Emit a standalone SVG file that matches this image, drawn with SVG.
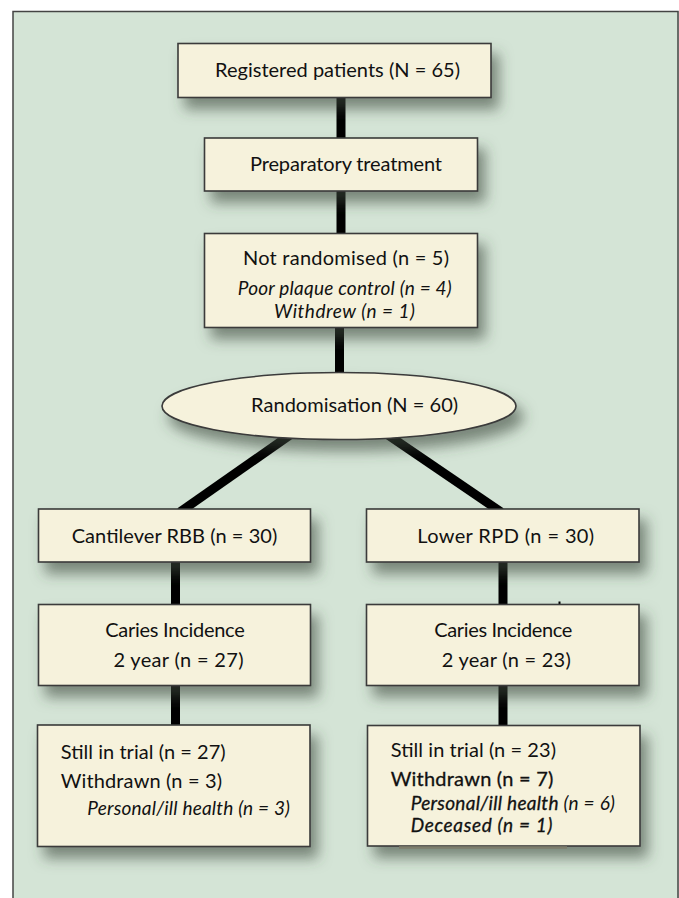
<svg xmlns="http://www.w3.org/2000/svg" width="679" height="898" viewBox="0 0 679 898">
<defs>
<filter id="sh" x="-20%" y="-30%" width="150%" height="190%">
<feDropShadow dx="7" dy="11" stdDeviation="7" flood-color="#3b4a3a" flood-opacity="0.6"/>
</filter>
</defs>
<style>
.box{fill:#f6f2dc;stroke:#3a3a3a;stroke-width:1.6}
.t{font-family:Lato,"Open Sans","Liberation Sans",sans-serif;font-size:20px;fill:#111}
.c{text-anchor:middle}
.i{font-style:italic;font-size:19px}
.b{stroke:#111;stroke-width:0.3}
.con{stroke:#000;stroke-width:9;fill:none}
</style>
<rect x="13" y="11" width="666" height="887" fill="#d4e4d6"/>
<path d="M13 898V11.5H678V898" fill="none" stroke="#444" stroke-width="1.5"/>
<g id="connectors">
<line class="con" x1="341" y1="95" x2="341" y2="140"/>
<line class="con" x1="341" y1="189" x2="341" y2="235"/>
<line class="con" x1="339.5" y1="326" x2="339.5" y2="376"/>
<line class="con" x1="290" y1="435" x2="180" y2="512"/>
<line class="con" x1="388" y1="435" x2="501" y2="512"/>
<line class="con" x1="175.5" y1="560" x2="175.5" y2="606"/>
<line class="con" x1="175.5" y1="683" x2="175.5" y2="727"/>
<line class="con" x1="503" y1="560" x2="503" y2="606"/>
<line class="con" x1="503" y1="683" x2="503" y2="728"/>
<line x1="559.5" y1="601.5" x2="559.5" y2="605" stroke="#000" stroke-width="2"/>
</g>
<g id="registered">
<rect class="box" x="178" y="43.5" width="313" height="54" filter="url(#sh)"/>
<text class="t c" x="337.5" y="77" textLength="245">Registered patients (N = 65)</text>
</g>
<g id="preparatory">
<rect class="box" x="204.5" y="138" width="273" height="53" filter="url(#sh)"/>
<text class="t c" x="346" y="171" textLength="192">Preparatory treatment</text>
</g>
<g id="not-randomised">
<rect class="box" x="204.5" y="233.5" width="273" height="94" filter="url(#sh)"/>
<text class="t c" x="346" y="265" textLength="206">Not randomised (n = 5)</text>
<text class="t c i" x="344.7" y="295" textLength="214">Poor plaque control (n = 4)</text>
<text class="t c i" x="344.5" y="317.5" textLength="141">Withdrew (n = 1)</text>
</g>
<g id="randomisation">
<ellipse cx="339" cy="406" rx="177" ry="33.5" fill="#f6f2dc" stroke="#3a3a3a" stroke-width="1.6" filter="url(#sh)"/>
<text class="t c" x="354.6" y="411.5" textLength="207">Randomisation (N = 60)</text>
</g>
<g id="cantilever">
<rect class="box" x="38.5" y="509" width="272" height="53" filter="url(#sh)"/>
<text class="t c" x="174.5" y="542.5" textLength="205.7">Cantilever RBB (n = 30)</text>
</g>
<g id="lower-rpd">
<rect class="box" x="366.5" y="509" width="272.5" height="53" filter="url(#sh)"/>
<text class="t c" x="505.7" y="542.5" textLength="177">Lower RPD (n = 30)</text>
</g>
<g id="caries-left">
<rect class="box" x="38.5" y="604.5" width="272" height="81" filter="url(#sh)"/>
<text class="t c" x="175" y="637.3" textLength="139.5">Caries Incidence</text>
<text class="t c" x="178.5" y="667.3" textLength="130">2 year (n = 27)</text>
</g>
<g id="caries-right">
<rect class="box" x="366.5" y="604.5" width="272.5" height="81" filter="url(#sh)"/>
<text class="t c" x="503.3" y="637.3" textLength="138">Caries Incidence</text>
<text class="t c" x="506.3" y="667.3" textLength="129">2 year (n = 23)</text>
</g>
<g id="still-left">
<rect class="box" x="37.5" y="725" width="272.5" height="121.5" filter="url(#sh)"/>
<text class="t" x="60.7" y="759" textLength="165">Still in trial (n = 27)</text>
<text class="t" x="60.7" y="788.3" textLength="161.3">Withdrawn (n = 3)</text>
<text class="t i" x="87.3" y="815" textLength="202.7">Personal/ill health (n = 3)</text>
</g>
<g id="still-right">
<rect class="box" x="367.5" y="725.5" width="272.5" height="120.5" filter="url(#sh)"/>
<line x1="399" y1="847.5" x2="567" y2="847.5" stroke="#7d7d6c" stroke-width="2.5"/>
<text class="t" x="390.7" y="757.3" textLength="165.3">Still in trial (n = 23)</text>
<text class="t b" x="390.7" y="786" textLength="162.6">Withdrawn (n = 7)</text>
<text class="t i" x="410.7" y="810" textLength="204.3"><tspan class="b">Personal/ill health</tspan> (n = 6)</text>
<text class="t i b" x="410.7" y="831.7" textLength="141.6">Deceased (n = 1)</text>
</g>
</svg>
